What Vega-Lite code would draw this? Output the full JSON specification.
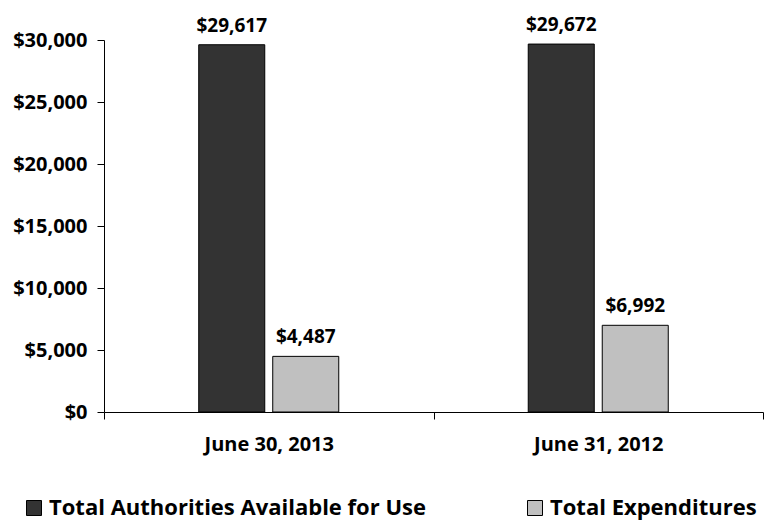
{
  "$schema": "https://vega.github.io/schema/vega-lite/v6.json",
  "width": 659,
  "height": 372,
  "autosize": {"type": "none"},
  "padding": {"left": 104, "top": 40, "right": 11, "bottom": 111},
  "config": {"view": {"stroke": null}, "font": "Open Sans"},
  "data": {
    "values": [
      {"date": "June 30, 2013", "series": "Total Authorities Available for Use", "value": 29617},
      {"date": "June 30, 2013", "series": "Total Expenditures", "value": 4487},
      {"date": "June 31, 2012", "series": "Total Authorities Available for Use", "value": 29672},
      {"date": "June 31, 2012", "series": "Total Expenditures", "value": 6992}
    ]
  },
  "encoding": {
    "x": {
      "field": "date", "type": "nominal", "sort": null,
      "scale": {"paddingInner": 0, "paddingOuter": 0},
      "axis": {"title": null, "labelAngle": 0, "labelFont": "Open Sans", "labelFontWeight": "bold", "labelFontSize": 20, "labelColor": "black", "domainColor": "black", "tickColor": "black", "tickBand": "extent", "tickSize": 7, "labelPadding": 15, "labelBaseline": "top"}
    },
    "xOffset": {
      "field": "series", "sort": null,
      "scale": {"domain": ["pad-left", "Total Authorities Available for Use", "Total Expenditures", "pad-right"], "paddingInner": 0.108, "paddingOuter": 0.28}
    },
    "y": {
      "field": "value", "type": "quantitative",
      "scale": {"domain": [0, 30000]},
      "axis": {"title": null, "values": [0, 5000, 10000, 15000, 20000, 25000, 30000], "format": "$,.0f", "grid": false, "labelFont": "Open Sans", "labelFontWeight": "bold", "labelFontSize": 20, "labelColor": "black", "domainColor": "black", "tickColor": "black", "tickSize": 7, "labelPadding": 10}
    }
  },
  "layer": [
    {
      "mark": {"type": "bar", "stroke": "black", "strokeWidth": 1},
      "encoding": {
        "color": {
          "field": "series", "type": "nominal", "sort": null,
          "scale": {"domain": ["Total Authorities Available for Use", "Total Expenditures"], "range": ["#333333", "#c0c0c0"]},
          "legend": {"title": null, "orient": "none", "legendX": -81, "legendY": 457, "direction": "horizontal", "symbolType": "square", "symbolSize": 225, "symbolStrokeColor": "black", "symbolStrokeWidth": 1, "labelFontSize": 22, "labelFont": "Open Sans", "labelFontWeight": "bold", "labelColor": "black", "labelOffset": 4, "columnPadding": 98, "labelLimit": 600}
        }
      }
    },
    {
      "mark": {"type": "text", "baseline": "alphabetic", "dy": -13, "fontSize": 19, "fontWeight": "bold", "font": "Open Sans", "color": "black"},
      "encoding": {"text": {"field": "value", "type": "quantitative", "format": "$,.0f"}}
    }
  ]
}
